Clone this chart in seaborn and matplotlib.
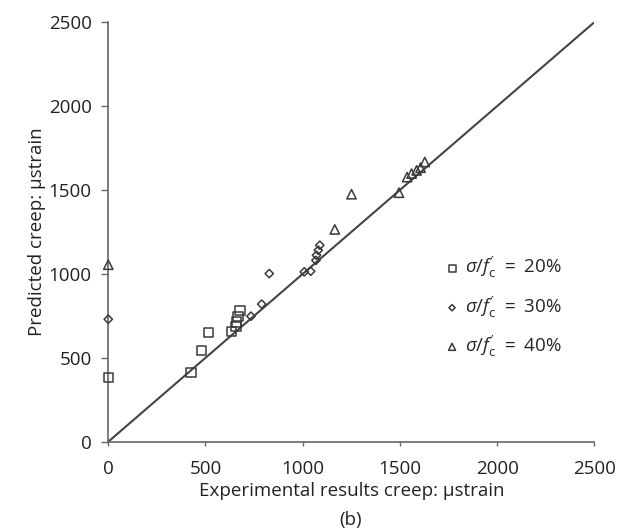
import numpy as np
import pandas as pd
import seaborn as sns
import matplotlib.pyplot as plt

# Experimental vs predicted creep (microstrain)
exp_20 = [0, 425, 480, 514, 634, 657, 660, 668, 677]
pred_20 = [384, 413, 542, 651, 655, 685, 714, 748, 780]

exp_30 = [0, 734, 789, 828, 1008, 1041, 1068, 1071, 1080, 1088]
pred_30 = [730, 748, 820, 1002, 1012, 1016, 1081, 1111, 1141, 1171]

exp_40 = [0, 1165, 1251, 1495, 1537, 1560, 1586, 1606, 1628]
pred_40 = [1055, 1265, 1475, 1484, 1577, 1598, 1617, 1633, 1667]

line_of_equality = [0, 2500]
ticks = [0, 500, 1000, 1500, 2000, 2500]

labels = [r"$\sigma/f^{\prime}_{\mathrm{c}}\ =\ \mathrm{20\%}$",
          r"$\sigma/f^{\prime}_{\mathrm{c}}\ =\ \mathrm{30\%}$",
          r"$\sigma/f^{\prime}_{\mathrm{c}}\ =\ \mathrm{40\%}$"]

sns.set_style('ticks')
plt.rcParams['font.family'] = ['Open Sans', 'DejaVu Sans']
plt.rcParams['mathtext.fontset'] = 'custom'
plt.rcParams['mathtext.rm'] = 'Open Sans'
plt.rcParams['mathtext.it'] = 'Open Sans:italic'
plt.rcParams['mathtext.sf'] = 'Open Sans'
plt.rcParams['mathtext.default'] = 'it'

FS = 13.5
fig = plt.figure(figsize=(6.23, 5.29), dpi=100)
ax = fig.add_axes([0.1738, 0.165, 0.7802, 0.793])

sns.lineplot(x=line_of_equality, y=line_of_equality, ax=ax, color='#444444', lw=1.5, zorder=1)

groups = [(exp_20, pred_20, 's', 45, labels[0]),
          (exp_30, pred_30, 'D', 18, labels[1]),
          (exp_40, pred_40, '^', 45, labels[2])]
for xs, ys, mk, size, lab in groups:
    sns.scatterplot(x=xs, y=ys, ax=ax, marker=mk, s=size, facecolor='none',
                    edgecolor='#3a3a3a', linewidth=1.1, label=lab, zorder=3, clip_on=False)

ax.set_xlim(0, 2500)
ax.set_ylim(0, 2500)
ax.set_xticks(ticks)
ax.set_yticks(ticks)
ax.tick_params(labelsize=FS, color='#666666', width=1, labelcolor='#222222')
ax.tick_params(axis='x', length=3, pad=10)
ax.tick_params(axis='y', length=5, pad=7)
for side in ['top', 'right']:
    ax.spines[side].set_visible(False)
for side in ['left', 'bottom']:
    ax.spines[side].set_color('#666666')
    ax.spines[side].set_linewidth(1.2)

ax.set_xlabel('Experimental results creep: µstrain', fontsize=FS, color='#222222', labelpad=3)
ax.set_ylabel('Predicted creep: µstrain', fontsize=FS, color='#222222', labelpad=2)
fig.text(0.562, 0.0, '(b)', ha='center', va='bottom', fontsize=FS, color='#222222')

leg = ax.legend(loc='center left', bbox_to_anchor=(0.688, 0.321), frameon=False, fontsize=FS,
                handletextpad=0.2, labelspacing=0.75, markerscale=0.75, handlelength=1.0,
                borderpad=0, borderaxespad=0)

fig.savefig('out.png', dpi=100)
